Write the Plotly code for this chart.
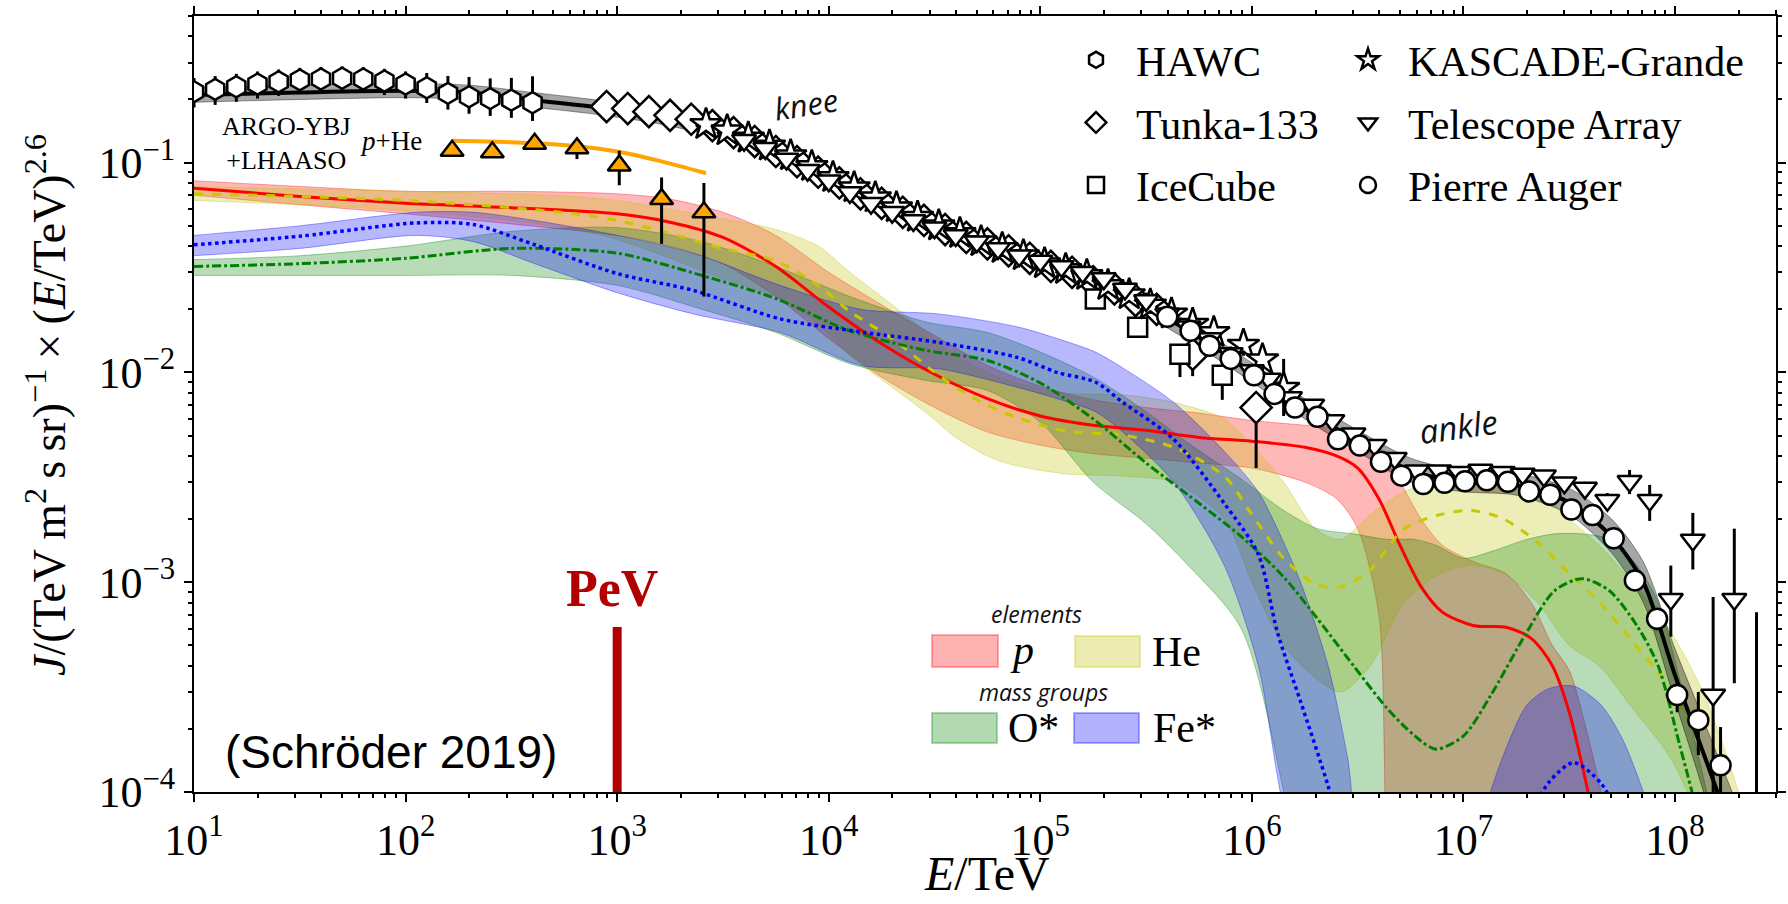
import plotly.graph_objects as go

SERIF = "Liberation Serif"
SANS = "Liberation Sans"

# ---------------- data ----------------
# energies given as log10(E/TeV); fluxes J*E^2.6
hawc_logE = [1.0, 1.1, 1.2, 1.3, 1.4, 1.5, 1.6, 1.7, 1.8, 1.9, 2.0, 2.1, 2.2, 2.3, 2.4, 2.5, 2.6]
hawc_J = [0.218, 0.2235, 0.230, 0.237, 0.243, 0.248, 0.2505, 0.2525, 0.2505, 0.245, 0.237, 0.2275,
          0.214, 0.206, 0.202, 0.1985, 0.193]
hawc_eup = [0.035, 0.035, 0.035, 0.035, 0.035, 0.035, 0.035, 0.035, 0.035, 0.035, 0.035, 0.04,
            0.045, 0.05, 0.05, 0.055, 0.065]
hawc_edn = [0.035, 0.035, 0.035, 0.035, 0.035, 0.035, 0.035, 0.035, 0.035, 0.035, 0.035, 0.035,
            0.035, 0.035, 0.035, 0.035, 0.035]

tunka_logE = [2.95, 3.05, 3.15, 3.25, 3.35, 3.45, 3.55, 3.65, 3.75, 3.85, 3.95, 4.05, 4.15, 4.25,
              4.35, 4.45, 4.55, 4.65, 4.75, 4.85, 4.95, 5.05, 5.15, 5.25, 5.35, 5.45, 5.55, 5.72, 6.02]
tunka_J = [0.185, 0.181, 0.175, 0.168, 0.161, 0.150, 0.139, 0.126, 0.113, 0.101, 0.090, 0.080, 0.071,
           0.064, 0.058, 0.053, 0.048, 0.044, 0.041, 0.038, 0.035, 0.032, 0.030, 0.027, 0.025, 0.022,
           0.020, 0.0122, 0.0068]
tunka_eup = [0.004, 0.004, 0.004, 0.004, 0.004, 0.004, 0.004, 0.004, 0.003, 0.003, 0.003, 0.003, 0.002,
             0.002, 0.002, 0.002, 0.002, 0.002, 0.002, 0.002, 0.002, 0.002, 0.002, 0.002, 0.002, 0.002,
             0.002, 0.001, 0.0006]
tunka_edn = [0.004, 0.004, 0.004, 0.004, 0.004, 0.004, 0.004, 0.004, 0.003, 0.003, 0.003, 0.003, 0.002,
             0.002, 0.002, 0.002, 0.002, 0.002, 0.002, 0.002, 0.002, 0.002, 0.002, 0.002, 0.002, 0.002,
             0.002, 0.0026, 0.0033]

icecube_logE = [5.26, 5.46, 5.66, 5.86]
icecube_J = [0.0224, 0.0164, 0.0122, 0.0097]
icecube_eup = [0.001, 0.001, 0.001, 0.001]
icecube_edn = [0.001, 0.0015, 0.0027, 0.0023]

kg_logE = [3.42, 3.52, 3.62, 3.72, 3.82, 3.92, 4.02, 4.12, 4.22, 4.32, 4.42, 4.52, 4.62, 4.72, 4.82,
           4.92, 5.02, 5.12, 5.22, 5.32, 5.42, 5.52, 5.62, 5.72, 5.82, 5.96, 6.05, 6.15]
kg_J = [0.152, 0.142, 0.131, 0.120, 0.108, 0.096, 0.085, 0.076, 0.068, 0.061, 0.055, 0.050, 0.046,
        0.042, 0.039, 0.036, 0.033, 0.031, 0.029, 0.026, 0.0235, 0.021, 0.019, 0.017, 0.0155, 0.0135,
        0.0115, 0.0084]
kg_eup = [0.004, 0.004, 0.004, 0.003, 0.003, 0.003, 0.003, 0.002, 0.002, 0.002, 0.002, 0.002, 0.002,
          0.002, 0.002, 0.002, 0.002, 0.002, 0.002, 0.002, 0.002, 0.002, 0.002, 0.002, 0.002, 0.0015,
          0.002, 0.0032]
kg_edn = [0.004, 0.004, 0.004, 0.003, 0.003, 0.003, 0.003, 0.002, 0.002, 0.002, 0.002, 0.002, 0.002,
          0.002, 0.002, 0.002, 0.002, 0.002, 0.002, 0.002, 0.002, 0.002, 0.002, 0.002, 0.002, 0.0015,
          0.002, 0.0022]

ta_logE = [3.6, 3.7, 3.8, 3.9, 4.0, 4.1, 4.2, 4.3, 4.4, 4.5, 4.6, 4.7, 4.8, 4.9, 5.0, 5.1, 5.2, 5.3,
           5.4, 5.5, 5.6, 5.7, 5.8, 5.9, 6.0, 6.08, 6.18, 6.285, 6.38, 6.48, 6.58, 6.675, 6.78, 6.885,
           6.98, 7.08, 7.185, 7.28, 7.38, 7.477, 7.574, 7.68, 7.785, 7.88, 7.98, 8.084, 8.18, 8.28, 8.385]
ta_J = [0.128, 0.117, 0.104, 0.092, 0.082, 0.072, 0.064, 0.058, 0.053, 0.049, 0.045, 0.042, 0.039,
        0.036, 0.034, 0.032, 0.030, 0.028, 0.025, 0.022, 0.019, 0.0165, 0.0145, 0.0123, 0.0102, 0.0093,
        0.0076, 0.0070, 0.0059, 0.0051, 0.0045, 0.0039, 0.0034, 0.0034, 0.00334, 0.00343, 0.00334,
        0.00328, 0.00322, 0.00298, 0.00281, 0.00246, 0.00303, 0.00246, 0.00083, 0.00159, 0.00029,
        0.00083, 0.00003]
ta_eup = [0.003, 0.003, 0.003, 0.003, 0.002, 0.002, 0.002, 0.002, 0.002, 0.002, 0.002, 0.002, 0.002,
          0.002, 0.002, 0.002, 0.002, 0.002, 0.002, 0.002, 0.001, 0.001, 0.001, 0.001, 0.0008, 0.0006,
          0.0005, 0.0004, 0.0003, 0.0003, 0.0002, 0.0002, 0.0002, 0.0002, 0.0002, 0.0002, 0.0002,
          0.0002, 0.0002, 0.0002, 0.0002, 0.0002, 0.0004, 0.00045, 0.00037, 0.00055, 0.00056,
          0.00097, 0.00069]
ta_edn = [0.003, 0.003, 0.003, 0.003, 0.002, 0.002, 0.002, 0.002, 0.002, 0.002, 0.002, 0.002, 0.002,
          0.002, 0.002, 0.002, 0.002, 0.002, 0.002, 0.002, 0.001, 0.001, 0.001, 0.001, 0.0008, 0.0006,
          0.0005, 0.0004, 0.0003, 0.0003, 0.0002, 0.0002, 0.0002, 0.0002, 0.0002, 0.0002, 0.0002,
          0.0002, 0.0002, 0.0002, 0.0002, 0.0002, 0.0004, 0.0005, 0.00028, 0.00044, 0.000289,
          0.0005, 0.0]

auger_logE = [5.60, 5.71, 5.80, 5.90, 6.01, 6.107, 6.204, 6.31, 6.407, 6.51, 6.61, 6.707, 6.81, 6.91,
              7.007, 7.11, 7.21, 7.31, 7.41, 7.51, 7.61, 7.71, 7.81, 7.915, 8.01, 8.11, 8.215]
auger_J = [0.0184, 0.0158, 0.0134, 0.0116, 0.0097, 0.0079, 0.0068, 0.00615, 0.0048, 0.00448, 0.00375,
           0.00322, 0.00294, 0.00298, 0.00303, 0.00306, 0.00301, 0.00271, 0.00261, 0.00222, 0.00209,
           0.00162, 0.00102, 0.00067, 0.00029, 0.00022, 0.000134]
auger_eup = [0.0005, 0.0005, 0.0004, 0.0004, 0.0003, 0.0003, 0.0003, 0.0002, 0.0002, 0.0002, 0.0001,
             0.0001, 0.0001, 0.0001, 0.0001, 0.0001, 0.0001, 0.0001, 0.0001, 0.0001, 0.0001, 0.0001,
             0.0001, 0.00008, 0.00005, 0.00008, 0.00007]
auger_edn = [0.0005, 0.0005, 0.0004, 0.0004, 0.0003, 0.0003, 0.0003, 0.0002, 0.0002, 0.0002, 0.0001,
             0.0001, 0.0001, 0.0001, 0.0001, 0.0001, 0.0001, 0.0001, 0.0001, 0.0001, 0.0001, 0.0001,
             0.0001, 0.00008, 0.00005, 0.00007, 0.00006]

argo_logE = [2.22, 2.41, 2.61, 2.81, 3.01, 3.21, 3.41]
argo_J = [0.114, 0.112, 0.123, 0.117, 0.097, 0.067, 0.058]
argo_eup = [0.004, 0.004, 0.006, 0.005, 0.017, 0.018, 0.022]
argo_edn = [0.004, 0.004, 0.006, 0.013, 0.019, 0.026, 0.035]
argo_fit_logE = [2.22, 2.5, 2.8, 3.0, 3.2, 3.42]
argo_fit_J = [0.127, 0.125, 0.120, 0.113, 0.102, 0.089]

total_logE = [1.0, 1.5, 2.0, 2.3, 2.6, 2.9, 3.2, 3.5, 3.75, 4.0, 4.25, 4.5, 4.75, 5.0, 5.25, 5.5, 5.75,
              6.0, 6.25, 6.5, 6.75, 7.0, 7.25, 7.5, 7.7, 7.85, 8.0, 8.1, 8.2, 8.27]
total_J = [0.21, 0.216, 0.22, 0.216, 0.199, 0.184, 0.166, 0.141, 0.114, 0.086, 0.066, 0.050, 0.041,
           0.0335, 0.027, 0.0205, 0.0147, 0.0100, 0.0067, 0.0047, 0.0034, 0.0030, 0.0029, 0.0024,
           0.00165, 0.0010, 0.00036, 0.00019, 0.0001, 0.00006]
total_hi = [0.228, 0.234, 0.238, 0.234, 0.216, 0.199, 0.180, 0.153, 0.124, 0.094, 0.072, 0.055, 0.045,
            0.0367, 0.0297, 0.0226, 0.0163, 0.0111, 0.0075, 0.0053, 0.0039, 0.0034, 0.0033, 0.0028,
            0.0020, 0.00125, 0.00048, 0.00027, 0.00015, 0.0001]
total_lo = [0.194, 0.200, 0.204, 0.200, 0.184, 0.170, 0.153, 0.130, 0.105, 0.079, 0.060, 0.0455, 0.037,
            0.0305, 0.0245, 0.0186, 0.0132, 0.0090, 0.0060, 0.0042, 0.0030, 0.0027, 0.0026, 0.0021,
            0.00138, 0.0008, 0.00027, 0.00013, 0.00006, 0.00003]

p_logE = [1.0, 1.5, 2.0, 2.5, 3.0, 3.25, 3.5, 3.75, 4.0, 4.25, 4.5, 4.75, 5.0, 5.25, 5.5, 5.75, 6.0,
          6.25, 6.4, 6.5, 6.6, 6.7, 6.8, 6.9, 7.05, 7.2, 7.32, 7.42, 7.5, 7.58, 7.65, 7.75]
p_J = [0.0755, 0.069, 0.064, 0.061, 0.057, 0.052, 0.044, 0.032, 0.0205, 0.0137, 0.0098, 0.0075, 0.0062,
       0.0056, 0.0053, 0.0049, 0.0047, 0.0044, 0.0040, 0.0035, 0.0025, 0.0015, 0.00095, 0.00072, 0.00062,
       0.00061, 0.00054, 0.0004, 0.00024, 0.00011, 0.00005, 0.00002]
p_hi = [0.082, 0.077, 0.073, 0.073, 0.071, 0.067, 0.058, 0.045, 0.030, 0.021, 0.015, 0.0108, 0.0086,
        0.0074, 0.0068, 0.0064, 0.0059, 0.0056, 0.0054, 0.0050, 0.0042, 0.0030, 0.0020, 0.0015, 0.00125,
        0.0011, 0.0008, 0.0005, 0.00038, 0.0002, 0.0001, 0.00003]
p_lo = [0.070, 0.063, 0.057, 0.051, 0.045, 0.040, 0.033, 0.023, 0.0145, 0.0095, 0.0068, 0.0052, 0.0045,
        0.0041, 0.0039, 0.0037, 0.0035, 0.0030, 0.0025, 0.0018, 0.0007, 0.00001, 0.00001, 0.00001,
        0.00001, 0.00001, 0.00001, 0.00001, 0.00001, 0.00001, 0.00001, 0.00001]

he_logE = [1.0, 1.5, 2.0, 2.5, 2.8, 3.0, 3.25, 3.5, 3.75, 3.95, 4.1, 4.3, 4.48, 4.6, 4.8, 5.1, 5.4,
           5.63, 5.87, 6.0, 6.15, 6.3, 6.42, 6.56, 6.72, 6.89, 7.04, 7.19, 7.35, 7.5, 7.64, 7.8, 7.97,
           8.1, 8.2, 8.3]
he_J = [0.071, 0.069, 0.066, 0.061, 0.057, 0.053, 0.046, 0.039, 0.034, 0.026, 0.0195, 0.0145, 0.0104,
        0.0085, 0.0066, 0.0053, 0.0050, 0.0044, 0.0032, 0.0021, 0.0013, 0.00098, 0.00095, 0.00115,
        0.0018, 0.0021, 0.0022, 0.0020, 0.00155, 0.0011, 0.00081, 0.00052, 0.00032, 0.000185, 0.0001,
        0.00005]
he_hi = [0.077, 0.075, 0.073, 0.071, 0.069, 0.066, 0.060, 0.054, 0.048, 0.040, 0.030, 0.021, 0.015,
         0.012, 0.0095, 0.0080, 0.0078, 0.0072, 0.0060, 0.0045, 0.0030, 0.0018, 0.0016, 0.0021, 0.0027,
         0.0030, 0.0031, 0.0030, 0.0027, 0.0020, 0.0015, 0.0010, 0.0006, 0.00035, 0.0002, 0.0001]
he_lo = [0.066, 0.063, 0.059, 0.053, 0.048, 0.043, 0.035, 0.028, 0.023, 0.017, 0.012, 0.0085, 0.0062,
         0.0049, 0.0038, 0.0033, 0.0032, 0.0030, 0.0020, 0.0010, 0.0005, 0.00035, 0.0003, 0.0004,
         0.0008, 0.0011, 0.0012, 0.0011, 0.0008, 0.0005, 0.0004, 0.00025, 0.00015, 0.00008, 0.00004,
         0.00002]

o_logE = [1.0, 1.5, 2.0, 2.5, 3.0, 3.4, 3.75, 4.1, 4.45, 4.75, 5.0, 5.25, 5.5, 5.7, 5.95, 6.15, 6.31,
          6.48, 6.64, 6.77, 6.87, 7.0, 7.13, 7.3, 7.43, 7.56, 7.69, 7.82, 7.92, 8.02, 8.08, 8.15]
o_J = [0.032, 0.033, 0.035, 0.039, 0.037, 0.029, 0.0225, 0.0158, 0.0128, 0.0114, 0.0089, 0.0060, 0.0037,
       0.0026, 0.00165, 0.00106, 0.00067, 0.0004, 0.00025, 0.000185, 0.00016, 0.000185, 0.00029, 0.00058,
       0.00091, 0.00104, 0.00091, 0.00062, 0.0004, 0.00017, 0.0001, 0.00005]
o_hi = [0.0345, 0.036, 0.040, 0.047, 0.049, 0.042, 0.032, 0.023, 0.0175, 0.0155, 0.0125, 0.0095,
        0.0065, 0.0046, 0.0031, 0.0022, 0.0018, 0.0017, 0.0016, 0.0016, 0.0015, 0.0013, 0.0014, 0.0016,
        0.0017, 0.0017, 0.0016, 0.0012, 0.0008, 0.00035, 0.0002, 0.0001]
o_lo = [0.029, 0.029, 0.029, 0.029, 0.026, 0.020, 0.0155, 0.011, 0.0092, 0.0082, 0.0058, 0.0030,
        0.0019, 0.0012, 0.0006, 0.0001, 0.00001, 0.00001, 0.00001, 0.00001, 0.00001, 0.00001, 0.00001,
        0.00001, 0.00001, 0.00001, 0.00001, 0.00001, 0.00001, 0.00001, 0.00001, 0.00001]

fe_logE = [1.0, 1.5, 2.05, 2.32, 2.61, 3.0, 3.36, 3.77, 4.15, 4.52, 4.89, 5.08, 5.26, 5.39, 5.63, 5.87,
           6.03, 6.12, 6.23, 6.36, 6.45, 6.6, 7.0, 7.1, 7.2, 7.3, 7.4, 7.52, 7.65, 7.75, 7.85, 7.97, 8.05]
fe_J = [0.0406, 0.0446, 0.0516, 0.0507, 0.0406, 0.0296, 0.0246, 0.018, 0.0156, 0.0139, 0.0118, 0.0100,
        0.0090, 0.0072, 0.0048, 0.00237, 0.00136, 0.00058, 0.00027, 0.000107, 0.00005, 0.00001,
        0.00001, 0.00002, 0.00004, 0.00007, 0.00011, 0.000138, 0.00011, 0.00007, 0.00003, 0.00001,
        0.00001]
fe_hi = [0.045, 0.050, 0.058, 0.058, 0.053, 0.045, 0.037, 0.026, 0.020, 0.019, 0.0165, 0.0145, 0.0125,
         0.0105, 0.0072, 0.0042, 0.0027, 0.0018, 0.0010, 0.0004, 0.00015, 0.00002, 0.00002, 0.00008,
         0.00016, 0.00026, 0.00031, 0.00032, 0.00026, 0.00018, 0.0001, 0.00004, 0.00001]
fe_lo = [0.036, 0.039, 0.045, 0.042, 0.033, 0.024, 0.019, 0.0155, 0.0108, 0.0104, 0.0085, 0.0075,
         0.0065, 0.0052, 0.0030, 0.0012, 0.0004, 0.00012, 0.00003, 0.00001, 0.00001, 0.00001, 0.00001,
         0.00001, 0.00001, 0.00001, 0.00001, 0.00001, 0.00001, 0.00001, 0.00001, 0.00001, 0.00001]

x_tick_exp = [1, 2, 3, 4, 5, 6, 7, 8]
y_tick_exp = [-4, -3, -2, -1]
x_range_log = [1, 8.4771]      # 10 TeV .. 3e8 TeV
y_range_log = [-4, -0.30103]   # 1e-4 .. 0.5
pev_energy = 1000  # 1 PeV in TeV

# ---------------- layout constants ----------------
W, H = 1788, 904
L, R, T, B = 194, 12, 16, 112
PW, PH = W - L - R, H - T - B


def E(logs):
    return [10 ** v for v in logs]


def px(X):
    return (X - L) / PW


def py(Y):
    return (H - B - Y) / PH


fig = go.Figure()


def band(logE, hi, lo, fillc, edgec):
    fig.add_trace(go.Scatter(x=E(logE), y=hi, mode="lines", line=dict(color=edgec, width=1, shape="spline",
                             smoothing=0.8), showlegend=False, hoverinfo="skip"))
    fig.add_trace(go.Scatter(x=E(logE), y=lo, mode="lines", fill="tonexty", fillcolor=fillc,
                             line=dict(color=edgec, width=1, shape="spline", smoothing=0.8),
                             showlegend=False, hoverinfo="skip"))


band(p_logE, p_hi, p_lo, "rgba(255,0,0,0.28)", "rgba(255,0,0,0.35)")
band(he_logE, he_hi, he_lo, "rgba(191,191,0,0.28)", "rgba(191,191,0,0.35)")
band(o_logE, o_hi, o_lo, "rgba(0,128,0,0.28)", "rgba(0,128,0,0.35)")
band(fe_logE, fe_hi, fe_lo, "rgba(0,0,255,0.28)", "rgba(0,0,255,0.35)")

fig.add_trace(go.Scatter(x=E(p_logE), y=p_J, mode="lines", showlegend=False,
                         line=dict(color="#ff0000", width=3, shape="spline", smoothing=0.8)))
fig.add_trace(go.Scatter(x=E(he_logE), y=he_J, mode="lines", showlegend=False,
                         line=dict(color="#c8c800", width=3, dash="dash", shape="spline", smoothing=0.8)))
fig.add_trace(go.Scatter(x=E(o_logE), y=o_J, mode="lines", showlegend=False,
                         line=dict(color="#008000", width=3, dash="dashdot", shape="spline", smoothing=0.8)))
fig.add_trace(go.Scatter(x=E(fe_logE), y=fe_J, mode="lines", showlegend=False,
                         line=dict(color="#0000ff", width=3.5, dash="dot", shape="spline", smoothing=0.8)))

# total all-particle band and line
band(total_logE, total_hi, total_lo, "rgba(0,0,0,0.35)", "rgba(0,0,0,0.4)")
fig.add_trace(go.Scatter(x=E(total_logE), y=total_J, mode="lines", showlegend=False,
                         line=dict(color="black", width=4, shape="spline", smoothing=0.8)))

# ARGO-YBJ + LHAASO
fig.add_trace(go.Scatter(x=E(argo_fit_logE), y=argo_fit_J, mode="lines", showlegend=False,
                         line=dict(color="#ffa500", width=4, shape="spline")))
fig.add_trace(go.Scatter(x=E(argo_logE), y=argo_J, mode="markers", showlegend=False,
                         marker=dict(symbol="triangle-up", size=20, color="#ffa500",
                                     line=dict(color="black", width=2.5)),
                         error_y=dict(type="data", array=argo_eup, arrayminus=argo_edn, color="black",
                                      thickness=3, width=0)))


def data_trace(name, logE, J, eup, edn, symbol, size, legend):
    fig.add_trace(go.Scatter(
        x=E(logE), y=J, mode="markers", name=name, legend=legend, legendgroup=name,
        marker=dict(symbol=symbol, size=size, color="white", line=dict(color="black", width=2.5)),
        error_y=dict(type="data", array=eup, arrayminus=edn, color="black", thickness=3, width=0)))


data_trace("HAWC", hawc_logE, hawc_J, hawc_eup, hawc_edn, "hexagon", 21, "legend")
data_trace("Tunka-133", tunka_logE, tunka_J, tunka_eup, tunka_edn, "diamond", 24, "legend")
data_trace("IceCube", icecube_logE, icecube_J, icecube_eup, icecube_edn, "square", 19, "legend")
data_trace("KASCADE-Grande", kg_logE, kg_J, kg_eup, kg_edn, "star", 24, "legend2")
data_trace("Telescope Array", ta_logE, ta_J, ta_eup, ta_edn, "triangle-down", 21, "legend2")
data_trace("Pierre Auger", auger_logE, auger_J, auger_eup, auger_edn, "circle", 20, "legend2")

# ---------------- axes ----------------
x_minor = [m * 10 ** k for k in range(1, 9) for m in range(2, 10)]
y_minor = [m * 10 ** k for k in range(-4, 0) for m in range(2, 10)]

axis_common = dict(type="log", showline=True, linecolor="black", linewidth=2, mirror="allticks",
                   ticks="outside", ticklen=8, tickwidth=2, tickcolor="black", showgrid=False,
                   zeroline=False, tickfont=dict(family=SERIF, size=44, color="black"))
fig.update_xaxes(**axis_common, range=x_range_log,
                 tickvals=[10 ** k for k in x_tick_exp],
                 ticktext=["10<sup>%d</sup>" % k for k in x_tick_exp],
                 minor=dict(tickvals=x_minor, ticks="outside", ticklen=4, tickwidth=1.5, tickcolor="black"))
fig.update_yaxes(**axis_common, range=y_range_log,
                 tickvals=[10 ** k for k in y_tick_exp],
                 ticktext=["10<sup>\u2212%d</sup>" % (-k) for k in y_tick_exp],
                 minor=dict(tickvals=y_minor, ticks="outside", ticklen=4, tickwidth=1.5, tickcolor="black"))

# ---------------- annotations ----------------
TS = "\u2009"  # thin space as in the typeset label
ann = []
ann.append(dict(text="<i>J</i>/(TeV" + TS + "m<sup>2</sup>" + TS + "s" + TS + "sr)<sup>\u22121</sup>"
                     + TS + "\u00d7" + TS + "(<i>E</i>/TeV)<sup>2.6</sup>",
                x=px(46), y=py(405), textangle=-90, font=dict(family=SERIF, size=46, color="black")))
ann.append(dict(text="<i>E</i>/TeV", x=px(987), y=py(873), font=dict(family=SERIF, size=48, color="black")))
ann.append(dict(text="<i>knee</i>", x=px(806), y=py(104), textangle=-9,
                font=dict(family="Open Sans", size=31, color="#111")))
ann.append(dict(text="<i>ankle</i>", x=px(1458), y=py(426), textangle=-8,
                font=dict(family="Open Sans", size=33, color="#111")))
ann.append(dict(text="<b>PeV</b>", x=px(612), y=py(588), font=dict(family=SERIF, size=52, color="#b20000")))
ann.append(dict(text="(Schr\u00f6der 2019)", x=px(391), y=py(752), font=dict(family=SANS, size=46, color="black")))
ann.append(dict(text="ARGO-YBJ<br>+LHAASO", x=px(286), y=py(143), align="center",
                font=dict(family=SERIF, size=26, color="black")))
ann.append(dict(text="<i>p</i>+He", x=px(391), y=py(141), font=dict(family=SERIF, size=27, color="black")))
# band legend
ann.append(dict(text="<i>elements</i>", x=px(1036), y=py(614), font=dict(family="Open Sans", size=23, color="#111")))
ann.append(dict(text="<i>mass groups</i>", x=px(1043), y=py(692), font=dict(family="Open Sans", size=23, color="#111")))
ann.append(dict(text="<i>p</i>", x=px(1008), y=py(650), xanchor="left", font=dict(family=SERIF, size=42, color="black")))
ann.append(dict(text="He", x=px(1150), y=py(652), xanchor="left", font=dict(family=SERIF, size=42, color="black")))
ann.append(dict(text="O*", x=px(1006), y=py(728), xanchor="left", font=dict(family=SERIF, size=42, color="black")))
ann.append(dict(text="Fe*", x=px(1151), y=py(728), xanchor="left", font=dict(family=SERIF, size=42, color="black")))
for a in ann:
    a.update(xref="paper", yref="paper", showarrow=False)
    a.setdefault("xanchor", "center")
    a.setdefault("yanchor", "middle")

shapes = []
swatches = [((932, 635, 998, 667), "rgba(255,0,0,0.3)", "rgba(255,0,0,0.3)"),
            ((1075, 636, 1140, 667), "rgba(191,191,0,0.3)", "rgba(191,191,0,0.3)"),
            ((932, 713, 997, 743), "rgba(0,128,0,0.3)", "rgba(0,128,0,0.3)"),
            ((1074, 713, 1139, 743), "rgba(0,0,255,0.3)", "rgba(0,0,255,0.3)")]
for (x0, y0, x1, y1), fc, lc in swatches:
    shapes.append(dict(type="rect", xref="paper", yref="paper", x0=px(x0), x1=px(x1), y0=py(y1), y1=py(y0),
                       fillcolor=fc, line=dict(color=lc, width=2)))
# PeV marker bar at 1 PeV
shapes.append(dict(type="line", xref="x", yref="paper", x0=pev_energy, x1=pev_energy, y0=0, y1=py(627),
                   line=dict(color="#b20000", width=9)))

legend_common = dict(font=dict(family=SERIF, size=42, color="black"), bgcolor="rgba(0,0,0,0)",
                     borderwidth=0, yanchor="top", xanchor="left", tracegroupgap=5, itemsizing="trace",
                     traceorder="grouped", itemwidth=70)

fig.update_layout(
    width=W, height=H, margin=dict(l=L, r=R, t=T, b=B, autoexpand=False),
    paper_bgcolor="white", plot_bgcolor="white",
    annotations=ann, shapes=shapes,
    legend=dict(**legend_common, x=px(1056), y=py(26)),
    legend2=dict(**legend_common, x=px(1328), y=py(26)),
)

fig.write_html("out.html")
